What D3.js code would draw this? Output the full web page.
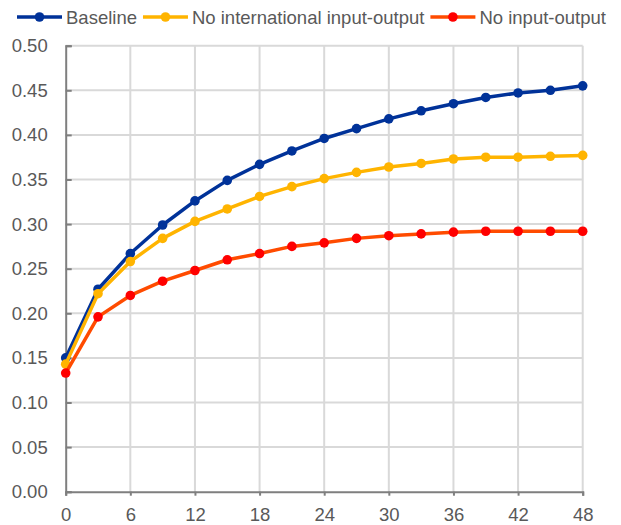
<!DOCTYPE html>
<html>
<head>
<meta charset="utf-8">
<script src="https://cdn.jsdelivr.net/npm/d3@7"></script>
<style>
  html, body { margin: 0; padding: 0; background: #ffffff; }
  svg { display: block; font-family: "Liberation Sans", Arial, sans-serif; }
</style>
</head>
<body>
<svg id="chart" width="621" height="525"></svg>
<script>
// Horizon in months (one point per quarter)
const months = [0, 3, 6, 9, 12, 15, 18, 21, 24, 27, 30, 33, 36, 39, 42, 45, 48];

// Series values
const baseline = [0.150, 0.227, 0.267, 0.299, 0.326, 0.349, 0.367, 0.382, 0.396, 0.407, 0.418, 0.427, 0.435, 0.442, 0.447, 0.450, 0.455];
const noInternationalIO = [0.143, 0.222, 0.258, 0.284, 0.303, 0.317, 0.331, 0.342, 0.351, 0.358, 0.364, 0.368, 0.373, 0.375, 0.375, 0.376, 0.377];
const noIO = [0.133, 0.196, 0.220, 0.236, 0.248, 0.260, 0.267, 0.275, 0.279, 0.284, 0.287, 0.289, 0.291, 0.292, 0.292, 0.292, 0.292];

const seriesNames = ["Baseline", "No international input-output", "No input-output"];

// Axis ticks
const xTicks = [0, 6, 12, 18, 24, 30, 36, 42, 48];
const yTicks = [0, 0.05, 0.10, 0.15, 0.20, 0.25, 0.30, 0.35, 0.40, 0.45, 0.50];

const series = [
  { name: seriesNames[0], values: baseline, line: "#003299", dot: "#003299" },
  { name: seriesNames[1], values: noInternationalIO, line: "#FFB400", dot: "#FFB400" },
  { name: seriesNames[2], values: noIO, line: "#FF4B00", dot: "#FF0000" }
];

const W = 621, H = 525;
const margin = { top: 45.7, right: 38.3, bottom: 33.3, left: 65.7 };
const svg = d3.select("#chart");
const fontSize = 18.5;
const textColor = "#595959";

const x = d3.scaleLinear().domain([0, 48]).range([margin.left, W - margin.right]);
const y = d3.scaleLinear().domain([0, 0.5]).range([H - margin.bottom, margin.top]);

// Gridlines
const grid = svg.append("g").attr("stroke", "#d9d9d9").attr("stroke-width", 2);
grid.selectAll("line.h").data(yTicks.filter(d => d > 0)).join("line")
  .attr("x1", x(0)).attr("x2", x(48))
  .attr("y1", d => y(d)).attr("y2", d => y(d));
grid.selectAll("line.v").data(xTicks.filter(d => d > 0)).join("line")
  .attr("x1", d => x(d)).attr("x2", d => x(d))
  .attr("y1", y(0)).attr("y2", y(0.5));

// Axes
const yAxis = svg.append("g")
  .attr("transform", `translate(${x(0)},0)`)
  .call(d3.axisLeft(y).tickValues(yTicks).tickFormat(d3.format(".2f")).tickSize(-6).tickPadding(18));
const xAxis = svg.append("g")
  .attr("transform", `translate(0,${y(0)})`)
  .call(d3.axisBottom(x).tickValues(xTicks).tickFormat(d3.format("d")).tickSize(4).tickPadding(12));

[yAxis, xAxis].forEach(g => {
  g.select(".domain").attr("stroke", "#7f7f7f").attr("stroke-width", 2);
  g.selectAll(".tick line").attr("stroke", "#7f7f7f").attr("stroke-width", 2);
  g.selectAll(".tick text").attr("fill", textColor)
    .style("font-size", fontSize + "px")
    .style("font-family", '"Liberation Sans", Arial, sans-serif');
});

// Lines and markers
const lineGen = d3.line().x((d, i) => x(months[i])).y(d => y(d));
series.forEach(s => {
  const g = svg.append("g");
  g.append("path").datum(s.values)
    .attr("d", lineGen)
    .attr("fill", "none")
    .attr("stroke", s.line)
    .attr("stroke-width", 3.5)
    .attr("stroke-linejoin", "round");
  g.selectAll("circle").data(s.values).join("circle")
    .attr("cx", (d, i) => x(months[i]))
    .attr("cy", d => y(d))
    .attr("r", 4.8)
    .attr("fill", s.dot);
});

// Legend
const legend = svg.append("g").attr("transform", "translate(0,17)");
let lx = 17;
series.forEach(s => {
  const item = legend.append("g").attr("transform", `translate(${lx},0)`);
  item.append("line").attr("x1", 0).attr("x2", 45).attr("y1", 0).attr("y2", 0)
    .attr("stroke", s.line).attr("stroke-width", 3.5);
  item.append("circle").attr("cx", 22.5).attr("cy", 0).attr("r", 4.8).attr("fill", s.dot);
  const t = item.append("text").attr("x", 49).attr("y", 0).attr("dy", "0.36em")
    .attr("fill", textColor).style("font-size", fontSize + "px").text(s.name);
  lx += 49 + t.node().getComputedTextLength() + 6;
});
</script>
</body>
</html>
